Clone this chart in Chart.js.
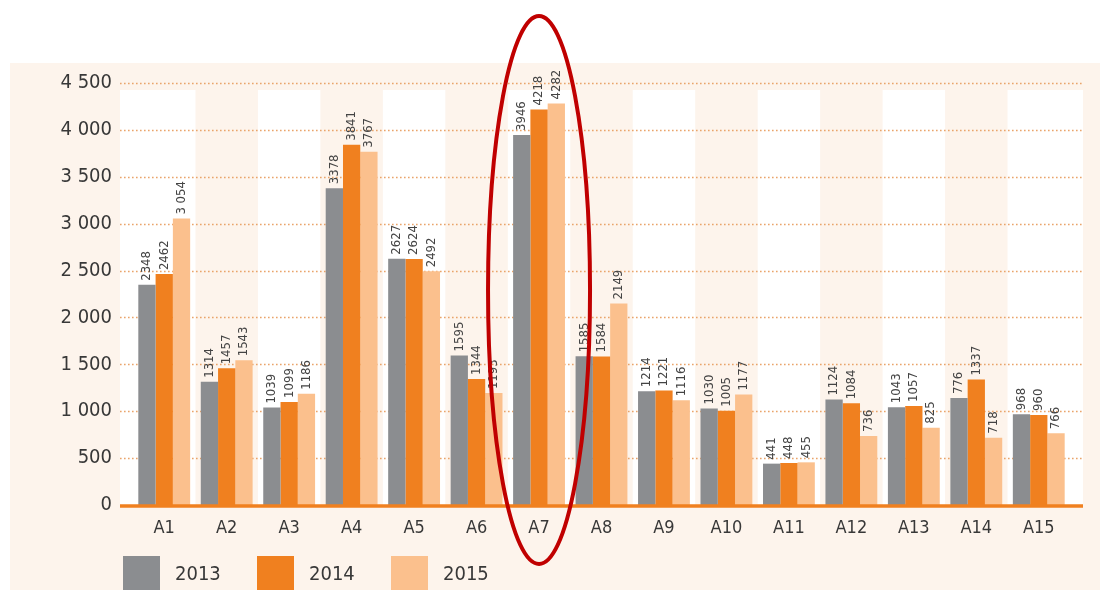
<!DOCTYPE html>
<html lang="es">
<head>
  <meta charset="UTF-8">
  <title>A1 - A15</title>
  <style>
    html, body {
      margin: 0;
      padding: 0;
      background: #ffffff;
    }
    #wrap {
      width: 1110px;
      height: 590px;
      position: relative;
    }
  </style>
</head>
<body>
  <div id="wrap">
    <canvas id="chart" width="1110" height="590"></canvas>
  </div>

  <script src="https://cdn.jsdelivr.net/npm/chart.js"></script>
  <script>
    const categories = ['A1', 'A2', 'A3', 'A4', 'A5', 'A6', 'A7', 'A8', 'A9', 'A10', 'A11', 'A12', 'A13', 'A14', 'A15'];
    const years = ['2013', '2014', '2015'];

    // bar heights as drawn
    const values2013 = [2348, 1314, 1039, 3378, 2627, 1595, 3946, 1585, 1214, 1030, 441, 1124, 1043, 1140, 968];
    const values2014 = [2462, 1457, 1099, 3841, 2624, 1344, 4218, 1584, 1221, 1005, 448, 1084, 1057, 1337, 960];
    const values2015 = [3054, 1543, 1186, 3767, 2492, 1193, 4282, 2149, 1116, 1177, 455, 736, 825, 718, 766];

    // printed labels (as in the original, incl. its quirks)
    const text2013 = ['2348', '1314', '1039', '3378', '2627', '1595', '3946', '1585', '1214', '1030', '441', '1124', '1043', '776', '968'];
    const text2014 = ['2462', '1457', '1099', '3841', '2624', '1344', '4218', '1584', '1221', '1005', '448', '1084', '1057', '1337', '960'];
    const text2015 = ['3 054', '1543', '1186', '3767', '2492', '1193', '4282', '2149', '1116', '1177', '455', '736', '825', '718', '766'];

    const yTicks = [0, 500, 1000, 1500, 2000, 2500, 3000, 3500, 4000, 4500];
    const highlighted = 'A7';

    const colors = ['#8b8d90', '#f0801f', '#fbc08d'];
    const FONT = '"DejaVu Sans Condensed", "Liberation Sans Narrow", sans-serif';
    const textColor = '#383838';
    const cream = '#fdf4ec';

    function fmt(v) {
      return String(v).replace(/\B(?=(\d{3})+(?!\d))/g, ' ');
    }

    // background panel, column stripes and dotted grid
    const backdrop = {
      id: 'backdrop',
      beforeDraw(chart) {
        const ctx = chart.ctx;
        const area = chart.chartArea;
        const y = chart.scales.y;
        const ext = 13;
        ctx.save();
        ctx.fillStyle = cream;
        ctx.fillRect(10, 63, 1090, 527);

        const step = (area.right - area.left) / categories.length;
        ctx.fillStyle = '#ffffff';
        categories.forEach((c, i) => {
          if (i % 2 !== 0) return;
          let x0 = area.left + step * i;
          let x1 = x0 + step;
          if (i === 0) x0 -= ext;
          if (i === categories.length - 1) x1 += ext;
          ctx.fillRect(x0, area.top + 7, x1 - x0, area.bottom - area.top - 7);
        });

        ctx.strokeStyle = '#e9a46a';
        ctx.lineWidth = 1.6;
        ctx.setLineDash([1.6, 2.4]);
        yTicks.forEach(t => {
          if (t === 0) return;
          const py = Math.round(y.getPixelForValue(t)) + 0.5;
          ctx.beginPath();
          ctx.moveTo(area.left - ext, py);
          ctx.lineTo(area.right + ext, py);
          ctx.stroke();
        });
        ctx.restore();
      },
      afterDatasetsDraw(chart) {
        const ctx = chart.ctx;
        const area = chart.chartArea;
        const ext = 13;
        const texts = [text2013, text2014, text2015];
        ctx.save();

        // base line
        ctx.strokeStyle = '#f0801f';
        ctx.lineWidth = 3.5;
        ctx.beginPath();
        ctx.moveTo(area.left - ext, area.bottom + 1);
        ctx.lineTo(area.right + ext, area.bottom + 1);
        ctx.stroke();

        // value labels, rotated
        ctx.fillStyle = '#444444';
        ctx.font = '13px ' + FONT;
        ctx.textAlign = 'left';
        ctx.textBaseline = 'middle';
        chart.data.datasets.forEach((ds, di) => {
          chart.getDatasetMeta(di).data.forEach((bar, i) => {
            ctx.save();
            ctx.translate(bar.x, bar.y - 4);
            ctx.rotate(-Math.PI / 2);
            ctx.fillText(texts[di][i], 0, 0);
            ctx.restore();
          });
        });

        // legend
        const lx = area.left - 10;
        const ly = area.bottom + 51;
        ctx.font = '20px ' + FONT;
        let x = lx;
        years.forEach((yr, i) => {
          ctx.fillStyle = colors[i];
          ctx.fillRect(x, ly, 37, 35);
          ctx.fillStyle = textColor;
          ctx.fillText(yr, x + 52, ly + 19);
          x += 134;
        });

        // red ellipse round the highlighted column
        const cx = chart.scales.x.getPixelForValue(categories.indexOf(highlighted));
        ctx.strokeStyle = '#c00000';
        ctx.lineWidth = 4;
        ctx.beginPath();
        ctx.ellipse(cx, area.top + 207, 51, 274, 0, 0, Math.PI * 2);
        ctx.stroke();
        ctx.restore();
      }
    };

    const ctx = document.getElementById('chart').getContext('2d');
    new Chart(ctx, {
      type: 'bar',
      data: {
        labels: categories,
        datasets: [
          { label: years[0], data: values2013, backgroundColor: colors[0] },
          { label: years[1], data: values2014, backgroundColor: colors[1] },
          { label: years[2], data: values2015, backgroundColor: colors[2] }
        ]
      },
      options: {
        responsive: false,
        animation: false,
        layout: {
          padding: { left: 10, right: 40, top: 83, bottom: 0 }
        },
        datasets: {
          bar: { barPercentage: 1, categoryPercentage: 0.83 }
        },
        scales: {
          x: {
            grid: { display: false, drawTicks: false },
            border: { display: false },
            ticks: {
              color: textColor,
              padding: 13,
              font: { family: FONT, size: 18 }
            },
            afterFit(scale) { scale.height = 85; }
          },
          y: {
            min: 0,
            max: 4500,
            afterBuildTicks(scale) {
              scale.ticks = yTicks.map(v => ({ value: v }));
            },
            grid: { display: false, drawTicks: false },
            border: { display: false },
            ticks: {
              color: textColor,
              padding: 21,
              font: { family: FONT, size: 20 },
              callback: v => fmt(v)
            },
            afterFit(scale) { scale.width = 123; }
          }
        },
        plugins: {
          legend: { display: false },
          tooltip: { enabled: false }
        }
      },
      plugins: [backdrop]
    });
  </script>
</body>
</html>
